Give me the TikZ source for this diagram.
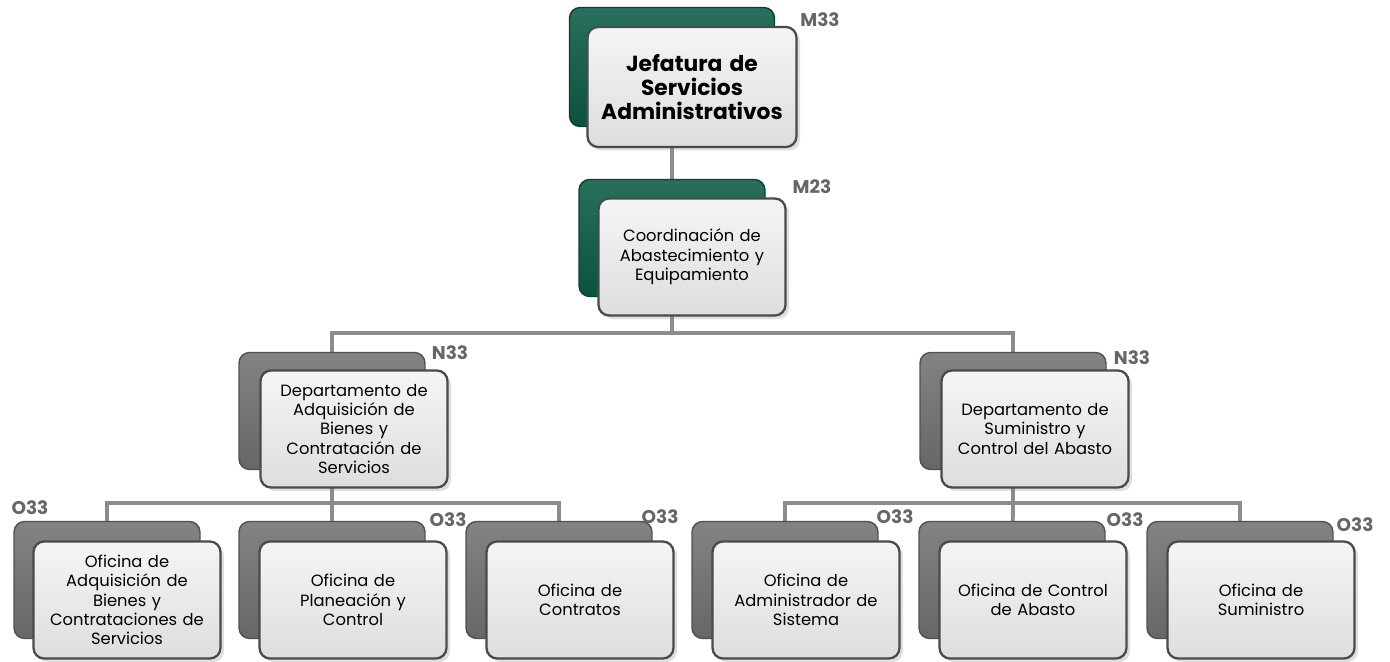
\documentclass[tikz,border=0pt]{standalone}
\usepackage{fontspec}
\setmainfont{Poppins}
\usepackage{tikz}
\usetikzlibrary{positioning, backgrounds, shadows, calc}
\definecolor{orggreen}{HTML}{0B5C46}
\definecolor{orggray}{HTML}{727272}
\definecolor{orgface}{HTML}{EDEEEE}
\definecolor{orgedge}{HTML}{4A4A4A}
\definecolor{orglabel}{HTML}{666666}
\definecolor{orgline}{HTML}{8C8C8C}

\begin{document}
\begin{tikzpicture}[
  x=0.02cm, y=-0.02cm,
  backbox/.style={rounded corners=6pt, minimum width=3.72cm, minimum height=2.34cm, inner sep=0pt, draw=#1!70!black, line width=0.8pt, top color=#1!88!white, bottom color=#1!90!black},
  frontbox/.style={rounded corners=6pt, minimum width=3.74cm, minimum height=2.34cm, align=center, text width=3.6cm, font=\fontsize{9.3}{11}\selectfont, inner sep=0pt, draw=orgedge, line width=1.3pt, top color=orgface!60!white, bottom color=orgface!85!gray, drop shadow={opacity=0.25, shadow xshift=2pt, shadow yshift=-2pt}},
  levellabel/.style={font=\fontsize{10.5}{12}\selectfont\bfseries, text=orglabel, inner sep=0pt},
  link/.style={draw=orgline, line width=2.2pt}
]
\useasboundingbox (0,0) rectangle (1390,662);

% jefatura
\node[backbox=orggreen, minimum width=4.1cm, minimum height=2.38cm] (jefB) at (672,67) {};
\node[frontbox, minimum width=4.18cm, minimum height=2.4cm, text width=4.1cm, font=\fontsize{12.4}{13.6}\selectfont\bfseries] (jef) at (692,87) {Jefatura de\\Servicios\\Administrativos};
\node[levellabel] (jefL) at (820,20) {M33};

% coordinacion
\node[backbox=orggreen] (coordB) at (672,238) {};
\node[frontbox] (coord) at (692,257) {Coordinación de\\Abastecimiento y\\Equipamiento};
\node[levellabel] (coordL) at (812,187) {M23};

% departamentos
\node[backbox=orggray] (depAB) at (332,411) {};
\node[frontbox] (depA) at (354,429) {Departamento de\\Adquisición de\\Bienes y\\Contratación de\\Servicios};
\node[levellabel] (depAL) at (450,353) {N33};

\node[backbox=orggray] (depBB) at (1013,411) {};
\node[frontbox] (depB) at (1035,429) {Departamento de\\Suministro y\\Control del Abasto};
\node[levellabel] (depBL) at (1132,358) {N33};

% oficinas
\node[backbox=orggray] (ofAB) at (107,580) {};
\node[frontbox] (ofA) at (127,600) {Oficina de\\Adquisición de\\Bienes y\\Contrataciones de\\Servicios};
\node[levellabel] (ofAL) at (30,508) {O33};

\node[backbox=orggray] (ofBB) at (332,580) {};
\node[frontbox] (ofB) at (353,600) {Oficina de\\Planeación y\\Control};
\node[levellabel] (ofBL) at (448,520) {O33};

\node[backbox=orggray] (ofCB) at (559,580) {};
\node[frontbox] (ofC) at (580,600) {Oficina de\\Contratos};
\node[levellabel] (ofCL) at (660,517) {O33};

\node[backbox=orggray] (ofDB) at (785,580) {};
\node[frontbox] (ofD) at (806,600) {Oficina de\\Administrador de\\Sistema};
\node[levellabel] (ofDL) at (895,517) {O33};

\node[backbox=orggray] (ofEB) at (1012,580) {};
\node[frontbox] (ofE) at (1033,600) {Oficina de Control\\de Abasto};
\node[levellabel] (ofEL) at (1125,520) {O33};

\node[backbox=orggray] (ofFB) at (1240,580) {};
\node[frontbox] (ofF) at (1261,600) {Oficina de\\Suministro};
\node[levellabel] (ofFL) at (1355,525) {O33};

\coordinate (busTop) at (672,333);
\coordinate (busA) at (332,503);
\coordinate (busB) at (1013,503);

\begin{scope}[on background layer]
\draw[link] (jefB.center) -- (coordB.center);
\draw[link] (coordB.center) -- (busTop) -| (depAB.center);
\draw[link] (busTop) -| (depBB.center);
\draw[link] (depAB.center) -- (busA) -| (ofAB.center);
\draw[link] (busA) -- (ofBB.center);
\draw[link] (busA) -| (ofCB.center);
\draw[link] (depBB.center) -- (busB) -| (ofDB.center);
\draw[link] (busB) -- (ofEB.center);
\draw[link] (busB) -| (ofFB.center);
\end{scope}
\end{tikzpicture}
\end{document}
